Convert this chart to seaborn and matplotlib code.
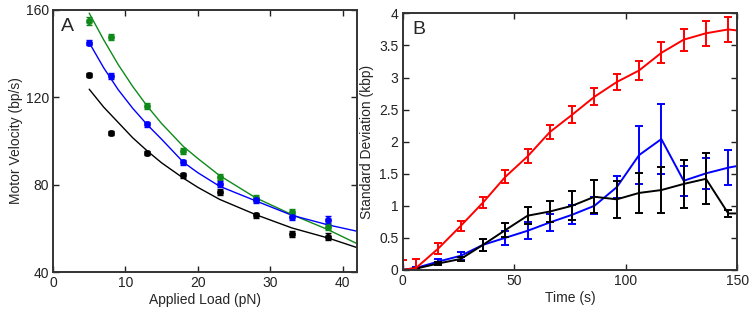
import numpy as np
import pandas as pd
import matplotlib
matplotlib.use("Agg")
import matplotlib.pyplot as plt
import seaborn as sns

# ---- panel A: motor velocity vs applied load ----
load = [5, 8, 13, 18, 23, 28, 33, 38]
vel_green = [155.1, 147.5, 116.1, 95.3, 83.5, 73.8, 67.4, 60.8]
err_green = [1.8, 1.3, 1.3, 1.3, 1.3, 1.3, 1.6, 1.6]
vel_blue = [145.0, 129.8, 107.6, 90.3, 80.3, 72.9, 65.3, 63.9]
err_blue = [1.0, 1.2, 1.0, 1.2, 1.4, 1.2, 1.4, 1.9]
vel_black = [130.0, 103.6, 94.5, 84.3, 76.8, 66.0, 57.5, 56.2]
err_black = [0.9, 0.9, 1.0, 1.2, 1.3, 1.2, 1.3, 1.5]

# fitted curves
fit_x = [5, 7, 9, 11, 13, 15, 18, 20, 23, 28, 33, 38, 42]
fit_green = [158.5, 146.3, 135.0, 125.0, 116.0, 108.0, 97.5, 92.0, 84.2, 74.0, 66.3, 59.4, 53.0]
fit_blue = [145.0, 133.5, 123.5, 115.0, 107.5, 100.8, 90.3, 85.5, 79.3, 72.6, 66.0, 61.6, 58.7]
fit_black = [123.7, 115.5, 108.5, 101.5, 95.5, 90.0, 83.0, 78.8, 73.3, 66.3, 60.2, 55.6, 51.2]

# ---- panel B: standard deviation vs time ----
time = [0, 6, 16, 26, 36, 46, 56, 66, 76, 86, 96, 106, 116, 126, 136, 146, 156]
sd_red = [0.0, 0.03, 0.335, 0.685, 1.05, 1.45, 1.77, 2.15, 2.42, 2.70, 2.93, 3.11, 3.385, 3.59, 3.69, 3.75, 3.71]
err_red = [0.15, 0.14, 0.09, 0.085, 0.09, 0.10, 0.11, 0.115, 0.13, 0.13, 0.13, 0.15, 0.165, 0.17, 0.195, 0.2, 0.2]
sd_blue = [0.0, 0.03, 0.13, 0.22, 0.39, 0.50, 0.61, 0.74, 0.86, 1.0, 1.29, 1.79, 2.04, 1.39, 1.505, 1.594, 1.66]
err_blue_b = [0.0, 0.02, 0.04, 0.065, 0.09, 0.105, 0.13, 0.13, 0.145, 0.135, 0.175, 0.45, 0.55, 0.235, 0.245, 0.27, 0.27]
sd_black = [0.0, 0.02, 0.10, 0.17, 0.39, 0.62, 0.845, 0.91, 1.0, 1.14, 1.10, 1.20, 1.245, 1.34, 1.42, 0.88, 0.88]
err_black_b = [0.0, 0.01, 0.03, 0.03, 0.09, 0.11, 0.135, 0.165, 0.225, 0.26, 0.29, 0.315, 0.36, 0.38, 0.40, 0.06, 0.06]

sns.set_style("ticks")
plt.rcParams['font.family'] = ['Liberation Sans', 'DejaVu Sans']
plt.rcParams['font.size'] = 10
plt.rcParams['axes.edgecolor'] = '#333333'
plt.rcParams['axes.linewidth'] = 1.4
plt.rcParams['xtick.color'] = '#222222'
plt.rcParams['ytick.color'] = '#222222'

fig = plt.figure(figsize=(7.55, 3.19), dpi=100)
axA = fig.add_axes([0.0702, 0.147, 0.4028, 0.822])
axB = fig.add_axes([0.5334, 0.154, 0.4430, 0.804])

green = '#0f8a1a'
colA = [(vel_green, err_green, fit_green, green),
        (vel_blue, err_blue, fit_blue, '#0000ff'),
        (vel_black, err_black, fit_black, 'black')]
for vals, errs, fit, c in colA:
    sns.lineplot(x=fit_x, y=fit, ax=axA, color=c, lw=1.0)
    axA.errorbar(load, vals, yerr=errs, fmt='none', ecolor=c, elinewidth=1.2, capsize=2.5)
    sns.scatterplot(x=load, y=vals, ax=axA, color=c, s=22, edgecolor=c, zorder=5)

axA.set_xlim(0, 42)
axA.set_ylim(40, 160)
axA.set_xticks([0, 10, 20, 30, 40])
axA.set_yticks([40, 80, 120, 160])
axA.set_xlabel('Applied Load (pN)', fontsize=10, labelpad=2)
axA.set_ylabel('Motor Velocity (bp/s)', fontsize=10, labelpad=2)
axA.text(0.025, 0.97, 'A', transform=axA.transAxes, fontsize=14, va='top', ha='left')

colB = [(sd_blue, err_blue_b, '#0000ff'),
        (sd_black, err_black_b, 'black'),
        (sd_red, err_red, '#ff0000')]
for vals, errs, c in colB:
    sns.lineplot(x=time, y=vals, ax=axB, color=c, lw=1.4)
    axB.errorbar(time, vals, yerr=errs, fmt='none', ecolor=c, elinewidth=1.4, capsize=3, capthick=1.4)

axB.set_xlim(0, 150)
axB.set_ylim(0, 4)
axB.set_xticks([0, 50, 100, 150])
axB.set_yticks([0, 0.5, 1, 1.5, 2, 2.5, 3, 3.5, 4])
axB.set_yticklabels(['0', '0.5', '1', '1.5', '2', '2.5', '3', '3.5', '4'])
axB.set_xlabel('Time (s)', fontsize=10, labelpad=2)
axB.set_ylabel('Standard Deviation (kbp)', fontsize=10, labelpad=4)
axB.text(0.03, 0.97, 'B', transform=axB.transAxes, fontsize=14, va='top', ha='left')

for ax in (axA, axB):
    ax.tick_params(direction='in', length=4, width=1.0, top=True, right=True, labelsize=10, pad=3)
    for s in ax.spines.values():
        s.set_visible(True)

fig.savefig('out.png', dpi=100)
